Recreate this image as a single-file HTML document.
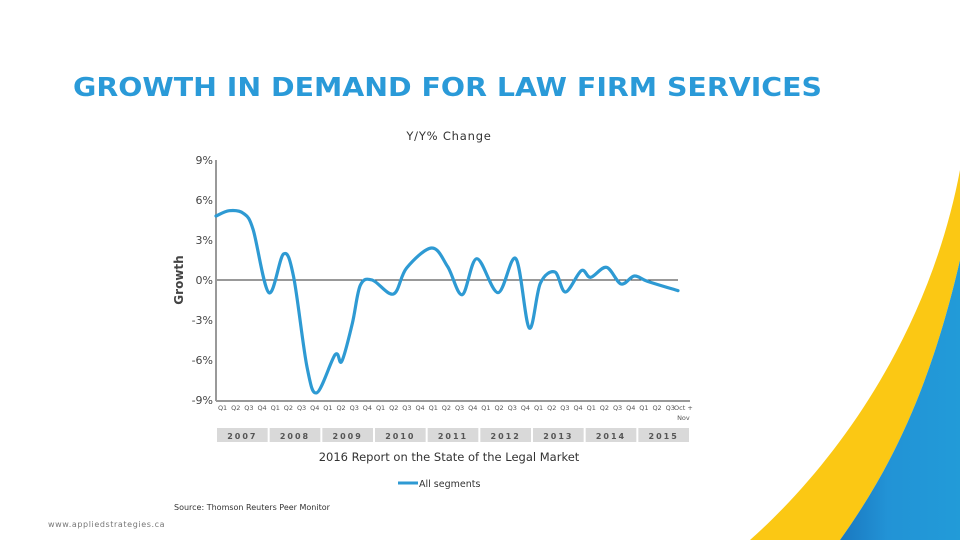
<!DOCTYPE html>
<html><head><meta charset="utf-8"><style>
body{margin:0;width:960px;height:540px;overflow:hidden;background:#fff;font-family:"DejaVu Sans",sans-serif;position:relative}
</style></head><body>
<svg width="960" height="540" style="position:absolute;left:0;top:0" font-family="DejaVu Sans, sans-serif">
<defs><linearGradient id="bg" x1="0" x2="1" y1="0" y2="0"><stop offset="0" stop-color="#1a78c0"/><stop offset="0.4" stop-color="#2293d6"/><stop offset="1" stop-color="#229bd8"/></linearGradient></defs>
<path d="M750,540 C840,460 930,330 960,170 L960,260 C930,390 890,470 840,540 Z" fill="#fbc814"/>
<path d="M840,540 C890,470 930,390 960,260 L960,540 Z" fill="url(#bg)"/>
<text x="73" y="96" font-size="26" font-weight="bold" fill="#2a9ad8" textLength="749" lengthAdjust="spacingAndGlyphs">GROWTH IN DEMAND FOR LAW FIRM SERVICES</text>
<text x="449" y="140" font-size="11.5" text-anchor="middle" fill="#333" letter-spacing="0.8">Y/Y% Change</text>
<text transform="translate(183,280) rotate(-90)" font-size="12" font-weight="bold" text-anchor="middle" fill="#444">Growth</text>
<g id="chart"></g>
<text x="449" y="461" font-size="11.5" text-anchor="middle" fill="#333">2016 Report on the State of the Legal Market</text>
<line x1="398" y1="483" x2="418" y2="483" stroke="#2e9ad3" stroke-width="3"/>
<text x="419" y="487" font-size="9.5" fill="#333">All segments</text>
<text x="174" y="510" font-size="8" fill="#333">Source: Thomson Reuters Peer Monitor</text>
<text x="48" y="527" font-size="8" fill="#777" letter-spacing="0.6">www.appliedstrategies.ca</text>
</svg>
<script>
const yTicks=[9,6,3,0,-3,-6,-9];
const quarterLabels=["Q1","Q2","Q3","Q4","Q1","Q2","Q3","Q4","Q1","Q2","Q3","Q4","Q1","Q2","Q3","Q4","Q1","Q2","Q3","Q4","Q1","Q2","Q3","Q4","Q1","Q2","Q3","Q4","Q1","Q2","Q3","Q4","Q1","Q2","Q3","Oct +"];
const years=["2007","2008","2009","2010","2011","2012","2013","2014","2015"];
const periods=[0,1.0,2.07,2.8,3.99,5.1,5.86,6.87,7.63,9.0,9.5,10.3,10.9,11.8,13.4,14.4,16.3,17.5,18.6,19.7,21.3,22.65,23.66,24.5,25.6,26.4,27.6,28.3,29.5,30.6,31.6,32.6,34.9];
const growth=[4.8,5.2,5.0,3.8,-0.95,1.95,0.25,-6.5,-8.45,-5.6,-6.1,-3.25,-0.4,0,-1.05,0.9,2.4,1.0,-1.1,1.6,-0.95,1.6,-3.6,-0.25,0.6,-0.9,0.7,0.2,0.95,-0.3,0.3,-0.1,-0.8];
const ns="http://www.w3.org/2000/svg";
const g=document.getElementById('chart');
const X0=216,X1=678,Y0=160,Y1=400;
const x=q=>X0+q*(X1-X0)/34.9;
const y=v=>Y0+(9-v)*(Y1-Y0)/18;
function mk(t,a,txt){const e=document.createElementNS(ns,t);for(const k in a)e.setAttribute(k,a[k]);if(txt!==undefined)e.textContent=txt;g.appendChild(e);return e;}
yTicks.forEach(v=>{
 const t=mk('text',{x:X0-3,y:y(v)+4,'font-size':11,'text-anchor':'end',fill:'#444'},v+'%');
 
 
});
const zl=mk('line',{x1:X0,y1:y(0),x2:X0+462,y2:y(0),stroke:'#333','stroke-width':1});


const ya=mk('line',{x1:X0,y1:Y0,x2:X0,y2:Y1+1,stroke:'#999','stroke-width':2});


const xa=mk('line',{x1:X0,y1:Y1+1,x2:690,y2:Y1+1,stroke:'#999','stroke-width':2});


const slot=(690-X0)/36;
quarterLabels.forEach((l,i)=>{
 const t=mk('text',{x:X0+slot*(i+0.5),y:410,'font-size':6.5,'text-anchor':'middle',fill:'#555'},l);
 
 
});
const nv=mk('text',{x:X0+slot*35.5,y:420,'font-size':6.5,'text-anchor':'middle',fill:'#555'},'Nov');


years.forEach((yr,i)=>{
 const r=mk('rect',{x:X0+i*slot*4+1,y:428,width:slot*4-2,height:14,fill:'#d9d9d9'});
 
 
 const t=mk('text',{x:X0+i*slot*4+slot*2,y:439,'font-size':8,'font-weight':'bold','text-anchor':'middle',fill:'#555','letter-spacing':'2'},yr);
 
 
});
const P=periods.map((p,i)=>[x(p),y(growth[i])]);
let d='M'+P[0][0]+','+P[0][1];
for(let i=0;i<P.length-1;i++){
 const p0=P[i-1]||P[i],p1=P[i],p2=P[i+1],p3=P[i+2]||P[i+1];
 const c1=[p1[0]+(p2[0]-p0[0])/6,p1[1]+(p2[1]-p0[1])/6];
 const c2=[p2[0]-(p3[0]-p1[0])/6,p2[1]-(p3[1]-p1[1])/6];
 d+=` C${c1[0]},${c1[1]} ${c2[0]},${c2[1]} ${p2[0]},${p2[1]}`;
}
const ln=mk('path',{d:d,fill:'none',stroke:'#2e9ad3','stroke-width':3.2,'stroke-linejoin':'round','stroke-linecap':'round'});


</script>
</body></html>
